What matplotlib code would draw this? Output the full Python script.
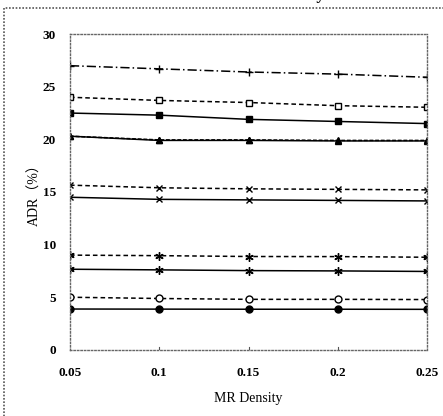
import matplotlib
matplotlib.use("Agg")
import matplotlib.pyplot as plt
from matplotlib.patches import Rectangle

plt.rcParams['font.family'] = ['Liberation Serif', 'Noto Sans CJK SC', 'DejaVu Sans']

density = [0.05, 0.1, 0.15, 0.2, 0.25]
tick_labels = ["0.05", "0.1", "0.15", "0.2", "0.25"]

adr_plus = [27.0, 26.7, 26.4, 26.2, 25.9]
adr_open_sq = [24.0, 23.7, 23.5, 23.2, 23.05]
adr_fill_sq = [22.5, 22.3, 21.9, 21.7, 21.5]
adr_fill_tri = [20.3, 19.9, 19.9, 19.85, 19.85]
adr_open_tri = [20.3, 19.95, 19.95, 19.9, 19.9]
adr_x_dash = [15.65, 15.4, 15.3, 15.25, 15.2]
adr_x_solid = [14.5, 14.3, 14.25, 14.2, 14.15]
adr_ast_dash = [9.0, 8.95, 8.87, 8.86, 8.8]
adr_ast_solid = [7.66, 7.6, 7.53, 7.5, 7.45]
adr_open_circ = [5.0, 4.88, 4.8, 4.8, 4.78]
adr_fill_circ = [3.88, 3.87, 3.86, 3.86, 3.85]

fig = plt.figure(figsize=(4.43, 4.16), dpi=100)
ax = fig.add_axes([0.158, 0.159, 0.806, 0.759])

k = dict(color='black', linewidth=1.1)
ax.plot(density, adr_plus, linestyle=(0, (6, 2, 1, 2)), marker='+', markersize=6, **k)
ax.plot(density, adr_open_sq, linestyle=(0, (3, 2)), marker='s', markersize=5,
        markerfacecolor='white', **k)
ax.plot(density, adr_fill_sq, linestyle='-', marker='s', markersize=5, **k)
ax.plot(density, adr_open_tri, linestyle=(0, (2.5, 1.2)), marker='^', markersize=5, **k)
ax.plot(density, adr_fill_tri, linestyle='-', marker='^', markersize=5, **k)
ax.plot(density, adr_x_dash, linestyle=(0, (3, 2)), marker='x', markersize=5, **k)
ax.plot(density, adr_x_solid, linestyle='-', marker='x', markersize=5, **k)
ax.plot(density, adr_ast_dash, linestyle=(0, (3, 2)), marker=(6, 2, 0), markersize=6, **k)
ax.plot(density, adr_ast_solid, linestyle='-', marker=(6, 2, 0), markersize=6, **k)
ax.plot(density, adr_open_circ, linestyle=(0, (3, 2)), marker='o', markersize=5,
        markerfacecolor='white', **k)
ax.plot(density, adr_fill_circ, linestyle='-', marker='o', markersize=5, **k)

ax.set_xlim(0.05, 0.25)
ax.set_ylim(0, 30)
ax.set_xticks(density)
ax.set_xticklabels(tick_labels)
ax.set_yticks([0, 5, 10, 15, 20, 25, 30])
ax.tick_params(axis='x', length=0, pad=12, labelsize=9.5)
ax.tick_params(axis='y', length=0, pad=10, labelsize=9.5)
for lab in ax.get_xticklabels() + ax.get_yticklabels():
    lab.set_fontweight('bold')
for sp in ax.spines.values():
    sp.set_linestyle((0, (1, 1.5)))
    sp.set_linewidth(1.0)
    sp.set_color('#666666')
for xv in density[1:-1]:
    ax.plot([xv, xv], [0, 0.3], color='#555555', linewidth=0.8)

ax.set_xlabel("MR Density", fontsize=10, labelpad=10)
ax.set_ylabel("ADR（%）", fontsize=10, labelpad=1)

fig.text(0.565, 0.993, "ADR vs. MR Density", ha='center', va='bottom',
         fontsize=12, fontweight='bold')
fig.patches.append(Rectangle((0.009, -0.02), 1.0, 1.0, transform=fig.transFigure,
                             fill=False, linestyle=(0, (1, 1)), linewidth=1.2,
                             edgecolor='#555555'))

fig.savefig("out.png", dpi=100)
